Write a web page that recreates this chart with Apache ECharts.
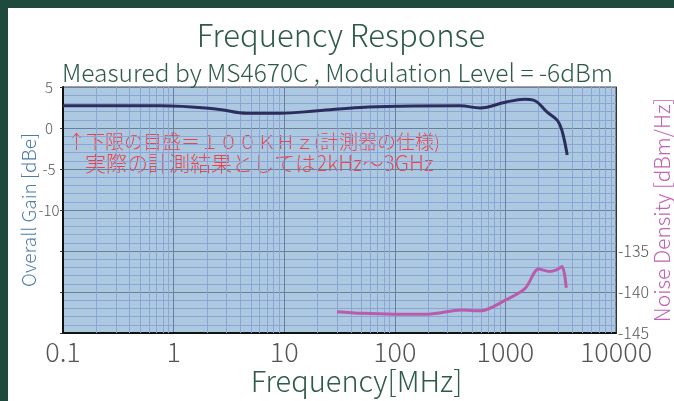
<!DOCTYPE html>
<html>
<head>
<meta charset="utf-8">
<script src="https://cdn.jsdelivr.net/npm/echarts@6/dist/echarts.min.js"></script>
<style>
  html, body { margin: 0; padding: 0; background: #ffffff; }
  #frame { position: relative; width: 674px; height: 401px; background: #1d4a3c; }
  #chart { position: absolute; left: 8px; top: 8px; width: 666px; height: 393px; background: #ffffff; }
</style>
</head>
<body>
<div id="frame"><div id="chart"></div></div>
<script>
// Overall gain [dBe] against frequency [MHz]
const gainFreq = [0.1, 0.76, 2.5, 4.6, 9.2, 20, 49, 112, 390, 590, 1000, 1500, 1790, 2400, 2960, 3260, 3620];
const gainValues = [2.7, 2.7, 2.3, 1.8, 1.8, 2.1, 2.5, 2.65, 2.7, 2.45, 3.15, 3.5, 3.4, 1.9, 0.9, -0.4, -3.3];

// Noise density [dBm/Hz] against frequency [MHz]
const noiseFreq = [30, 50, 100, 200, 400, 600, 1000, 1500, 2000, 2500, 2900, 3250, 3550];
const noiseValues = [-142.4, -142.6, -142.7, -142.7, -142.2, -142.3, -141.0, -139.6, -137.2, -137.5, -137.3, -136.9, -139.5];

const freqTicks = [0.1, 1, 10, 100, 1000, 10000];
const gainLabelTicks = [5, 0, -5, -10];
const noiseLabelTicks = [-135, -140, -145];

const noteLines = ["↑下限の目盛＝１００ＫＨｚ(計測器の仕様)", "実際の計測結果としては2kHz～3GHz"];

// minor log grid: 2..9 in every decade
const minorFreqs = [];
for (let d = 0; d < freqTicks.length - 1; d++) {
  for (let k = 2; k <= 9; k++) minorFreqs.push(+(freqTicks[d] * k).toPrecision(3));
}

const font = "'Noto Sans CJK JP', 'Noto Sans', sans-serif";
const titleGreen = "#2e5a4b";
const minorGrid = "#8ba6d4";
const majorGrid = "#6a7f9e";

const chart = echarts.init(document.getElementById("chart"));
chart.setOption({
  backgroundColor: "#ffffff",
  animation: false,
  title: [
    {
      text: "Frequency Response",
      left: "center",
      top: 7,
      textStyle: { fontFamily: font, fontSize: 31, fontWeight: 300, color: titleGreen }
    },
    {
      text: "Measured by MS4670C , Modulation Level = -6dBm",
      left: 49,
      top: 47,
      textStyle: { fontFamily: font, fontSize: 24.5, fontWeight: 300, color: titleGreen }
    }
  ],
  grid: {
    left: 55, right: 58, top: 79, bottom: 68,
    outerBoundsMode: "none",
    show: true,
    backgroundColor: "#adc9e2",
    borderColor: "#444",
    borderWidth: 1
  },
  xAxis: {
    type: "log",
    logBase: 10,
    min: 0.1,
    max: 10000,
    name: "Frequency[MHz]",
    nameLocation: "middle",
    nameGap: 33,
    nameMoveOverlap: false,
    nameTextStyle: { fontFamily: font, fontSize: 29, fontWeight: 300, color: titleGreen, padding: [0, 0, 0, 34] },
    axisLine: { show: true, onZero: false, lineStyle: { color: "#111", width: 2 } },
    axisTick: { show: false },
    axisLabel: {
      fontFamily: font, fontSize: 27, fontWeight: 300, color: "#555", margin: 5,
      formatter: (v) => (freqTicks.includes(+v) ? String(+v) : "")
    },
    splitLine: { show: true, lineStyle: { color: majorGrid, width: 1 } }
  },
  yAxis: [
    {
      type: "value",
      min: -25,
      max: 5,
      interval: 5,
      name: "Overall Gain [dBe]",
      nameLocation: "middle",
      nameGap: 25,
      nameMoveOverlap: false,
      nameTextStyle: { fontFamily: font, fontSize: 19, fontWeight: 300, color: "#4a7bab" },
      axisLine: { show: true, onZero: false, lineStyle: { color: "#111", width: 2 } },
      axisTick: { show: true, length: 3, lineStyle: { color: "#333" } },
      axisLabel: {
        fontFamily: font, fontSize: 15, fontWeight: 300, color: "#555", align: "center", margin: 14,
        formatter: (v) => (gainLabelTicks.includes(v) ? String(v) : "")
      },
      splitLine: { show: true, lineStyle: { color: majorGrid, width: 1 } },
      minorTick: { show: false, splitNumber: 5 },
      minorSplitLine: { show: true, lineStyle: { color: minorGrid, width: 1 } }
    },
    {
      type: "value",
      position: "right",
      min: -145,
      max: -115,
      interval: 5,
      name: "Noise Density [dBm/Hz]",
      nameLocation: "middle",
      nameGap: 36,
      nameRotate: 90,
      nameMoveOverlap: false,
      nameTextStyle: { fontFamily: font, fontSize: 21, fontWeight: 300, color: "#c262b4" },
      axisLine: { show: true, onZero: false, lineStyle: { color: "#333", width: 1 } },
      axisTick: { show: false },
      axisLabel: {
        fontFamily: font, fontSize: 16, fontWeight: 300, color: "#555", margin: 2,
        formatter: (v) => (noiseLabelTicks.includes(v) ? "-" + String(-v) : "")
      },
      splitLine: { show: false }
    }
  ],
  graphic: [
    {
      type: "text",
      left: 59,
      top: 124,
      style: { text: noteLines[0], font: "300 19px " + font, fill: "#e8434f" }
    },
    {
      type: "text",
      left: 77,
      top: 145,
      style: { text: noteLines[1], font: "300 21px " + font, fill: "#e8434f" }
    }
  ],
  series: [
    {
      name: "grid",
      type: "line",
      data: [],
      silent: true,
      z: 1,
      markLine: {
        silent: true,
        symbol: "none",
        label: { show: false },
        lineStyle: { color: minorGrid, width: 1, type: "solid" },
        data: minorFreqs.map((f) => ({ xAxis: f }))
      }
    },
    {
      name: "Overall Gain",
      type: "line",
      yAxisIndex: 0,
      smooth: 0.4,
      showSymbol: false,
      z: 5,
      lineStyle: { color: "#2b2d5c", width: 3 },
      data: gainFreq.map((f, i) => [f, gainValues[i]])
    },
    {
      name: "Noise Density",
      type: "line",
      yAxisIndex: 1,
      smooth: 0.3,
      showSymbol: false,
      z: 5,
      lineStyle: { color: "#b95cab", width: 3 },
      data: noiseFreq.map((f, i) => [f, noiseValues[i]])
    }
  ]
});
</script>
</body>
</html>
